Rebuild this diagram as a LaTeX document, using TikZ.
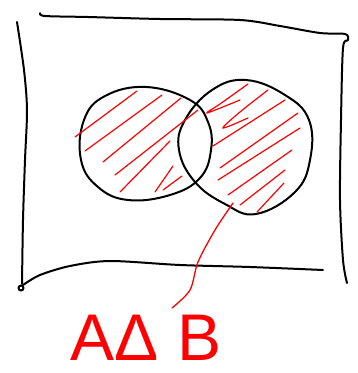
\documentclass[tikz,border=0pt]{standalone}
\usepackage{fontspec}
\newfontfamily\lblfont{Liberation Sans}
\tikzset{
  ink/.style={black,line width=2pt,line cap=round,line join=round},
  hatch/.style={red,line width=1.2pt,line cap=round},
  lead/.style={red,line width=1.3pt,line cap=round},
}
\begin{document}
\begin{tikzpicture}[x=1pt,y=-1pt]
\useasboundingbox (0,0) rectangle (358,373);
% frame
\draw[ink] plot[smooth] coordinates {(40,13) (45,16) (88,17) (160,19) (240,20) (280,26) (320,33) (345,34) (348,40) (343,48) (341,120) (340,200) (343,260) (347,283)};
\draw[ink] plot[smooth] coordinates {(17,22) (24,70) (27,110) (25,160) (23,220) (22,284)};
\draw[ink] (21,288) circle (2.5);
\draw[ink] plot[smooth] coordinates {(23,285) (40,275) (70,266) (110,261) (180,265) (250,267) (323,270)};
% circles
\draw[ink] plot[smooth cycle,tension=0.7] coordinates {(146,87) (190,100) (208,122) (211,150) (200,178) (170,195) (128,200) (98,187) (81,160) (84,120) (105,96)};
\draw[ink] plot[smooth cycle,tension=0.7] coordinates {(246,80) (285,95) (309,120) (310,160) (295,192) (256,214) (225,204) (195,182) (179,150) (185,120) (212,90)};
% hatching left
\draw[hatch] (75,137) -- (137,91);
\draw[hatch] (85,151) -- (162,95);
\draw[hatch] (103,162) -- (181,98);
\draw[hatch] (115,175) -- (198,110);
\draw[hatch] (120,192) -- (170,141);
\draw[hatch] (155,192) -- (173,166);
\draw[hatch] (163,190) -- (182,176);
% hatching right
\draw[hatch] plot[smooth] coordinates {(248,84) (220,104) (207,113) (240,100)};
\draw[hatch] plot[smooth] coordinates {(268,90) (240,112) (223,128) (248,118)};
\draw[hatch] (213,146) -- (285,100);
\draw[hatch] (220,168) -- (298,113);
\draw[hatch] (218,180) -- (300,128);
\draw[hatch] (228,195) -- (292,150);
\draw[hatch] (240,205) -- (285,170);
\draw[hatch] (257,212) -- (284,183);
% label
\node[red,inner sep=0pt,font=\lblfont\fontsize{66}{68}\selectfont] (lbl) at (146,338) {AΔ B};
\coordinate (src) at (233,203);
\draw[lead] plot[smooth] coordinates {(src) (215,230) (198,262) (190,290) (172,308)};
\end{tikzpicture}
\end{document}
